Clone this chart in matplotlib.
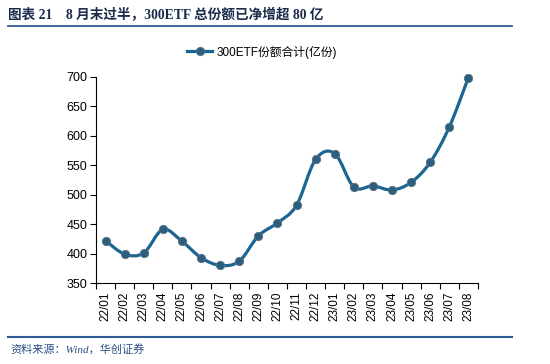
import numpy as np
import matplotlib
matplotlib.use('Agg')
import matplotlib.pyplot as plt
from matplotlib.path import Path
from matplotlib.patches import PathPatch
from matplotlib.lines import Line2D

# data
months = ['22/01', '22/02', '22/03', '22/04', '22/05', '22/06', '22/07', '22/08',
          '22/09', '22/10', '22/11', '22/12', '23/01', '23/02', '23/03', '23/04',
          '23/05', '23/06', '23/07', '23/08']
shares = [422, 399, 401, 441, 421, 393, 380, 387, 430, 452, 482, 560, 570,
          513, 515, 508, 521, 555, 615, 699]
yticks = [350, 400, 450, 500, 550, 600, 650, 700]

title = '图表 21    8 月末过半，300ETF 总份额已净增超 80 亿'
series_name = '300ETF份额合计(亿份)'
source = '资料来源：Wind，华创证券'

line_c = '#1c6592'
mark_c = '#2a5f82'
rule_c = '#2f5d93'

plt.rcParams['font.family'] = ['Liberation Sans', 'Noto Sans CJK SC', 'DejaVu Sans']

fig = plt.figure(figsize=(5.5, 3.64), dpi=100)
ax = fig.add_axes([0.1745, 0.2225, 0.6945, 0.566])

x = np.arange(len(months))
pts = np.column_stack([x, shares]).astype(float)

# smoothed line like Excel: cubic bezier through the points
ext = np.vstack([pts[0], pts, pts[-1]])
verts = [tuple(pts[0])]
codes = [Path.MOVETO]
for i in range(len(pts) - 1):
    p0, p1, p2, p3 = ext[i], ext[i + 1], ext[i + 2], ext[i + 3]
    c1 = p1 + (p2 - p0) / 6
    c2 = p2 - (p3 - p1) / 6
    verts += [tuple(c1), tuple(c2), tuple(p2)]
    codes += [Path.CURVE4] * 3
ax.add_patch(PathPatch(Path(verts, codes), facecolor='none', edgecolor=line_c,
                       lw=2.3, capstyle='round', joinstyle='round', zorder=2,
                       clip_on=False))
ax.plot(x, shares, ls='none', marker='o', ms=6, mfc=mark_c, mec='#607080',
        mew=0.6, zorder=3, clip_on=False)

ax.set_xlim(-0.5, len(months) - 0.5)
ax.set_ylim(350, 700)
ax.set_yticks(yticks)
ax.set_xticks(x)
ax.set_xticklabels(months, rotation=90, fontsize=8.5)
ax.set_xticks(np.arange(-0.5, len(months)), minor=True)
ax.tick_params(axis='x', which='major', length=0, pad=6)
ax.tick_params(axis='x', which='minor', length=4, width=0.8, direction='out')
ax.tick_params(axis='y', length=4, width=0.8, direction='out', labelsize=9, pad=2)
for s in ['top', 'right']:
    ax.spines[s].set_visible(False)
for s in ['left', 'bottom']:
    ax.spines[s].set_linewidth(0.8)

handle = Line2D([], [], color=line_c, lw=2.3, marker='o', ms=6, mfc=mark_c,
                mec='#607080', mew=0.6)
fig.legend([handle], [series_name], loc='center', bbox_to_anchor=(0.4755, 1 - 52 / 364),
           frameon=False, fontsize=8.5, handlelength=2.2, handletextpad=0.3)

# header and footer
fig.text(8 / 550, 1 - 15 / 364, title, fontsize=9.8, fontweight='bold',
         color='#1b2b4b', va='center', ha='left',
         family=['Liberation Serif', 'Noto Sans CJK SC'])
fig.add_artist(Line2D([8 / 550, 512 / 550], [1 - 25.5 / 364] * 2, color=rule_c, lw=1.3))
fig.add_artist(Line2D([8 / 550, 512 / 550], [1 - 337 / 364] * 2, color=rule_c, lw=1.5))
fig.text(10 / 550, 1 - 349 / 364, source, fontsize=8, style='italic',
         color='#2b4f86', va='center', ha='left',
         family=['Liberation Serif', 'Noto Sans CJK SC'])

fig.savefig('out.png', dpi=100)
